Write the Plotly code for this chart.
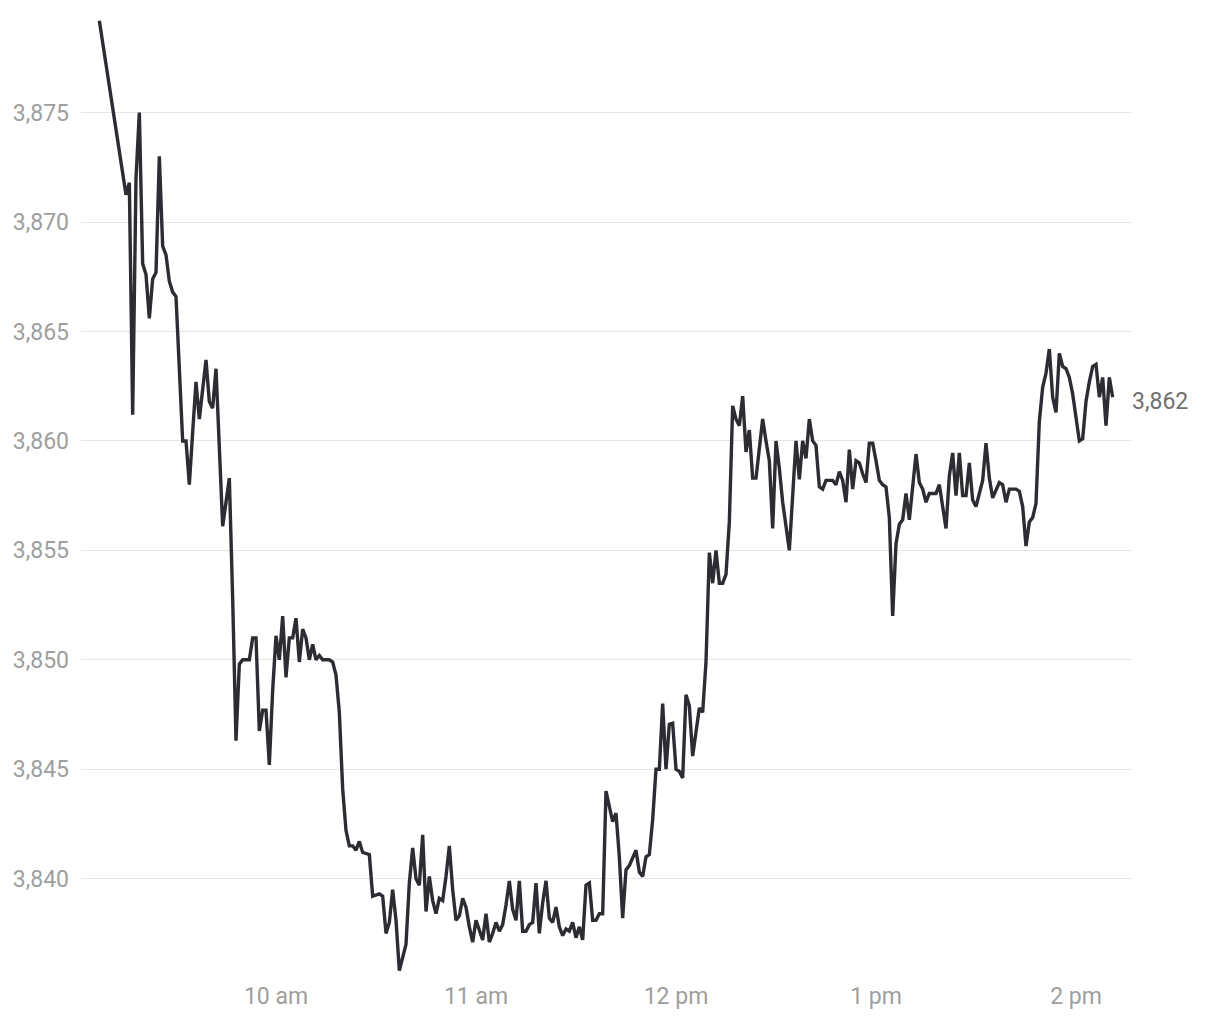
import pandas as pd
import plotly.graph_objects as go

# ---- data ----
session_date = "2024-01-02"
open_time = "09:07"
open_price = 3879.2
minute_start = "09:15"   # per-minute quotes start here

prices_0915_0959 = [
    3871.25, 3871.8, 3861.2, 3872.0, 3875.0, 3868.1, 3867.6, 3865.6, 3867.4, 3867.7,
    3873.0, 3868.9, 3868.5, 3867.3, 3866.8, 3866.6, 3863.3, 3860.0, 3860.0, 3858.0,
    3860.4, 3862.7, 3861.0, 3862.2, 3863.7, 3861.8, 3861.5, 3863.3, 3859.6, 3856.1,
    3857.2, 3858.3, 3852.8, 3846.3, 3849.8, 3850.0, 3850.0, 3850.0, 3851.0, 3851.0,
    3846.75, 3847.7, 3847.7, 3845.2, 3848.6,
]
prices_1000_1059 = [
    3851.1, 3850.0, 3852.0, 3849.2, 3851.0, 3851.0, 3851.9, 3849.9, 3851.4, 3851.0,
    3850.0, 3850.7, 3850.0, 3850.2, 3850.0, 3850.0, 3850.0, 3849.9, 3849.3, 3847.6,
    3844.1, 3842.2, 3841.5, 3841.5, 3841.3, 3841.7, 3841.2, 3841.15, 3841.1, 3839.2,
    3839.25, 3839.3, 3839.2, 3837.5, 3838.0, 3839.5, 3838.1, 3835.8, 3836.4, 3837.0,
    3839.8, 3841.4, 3840.0, 3839.7, 3842.0, 3838.5, 3840.1, 3839.0, 3838.4, 3839.1,
    3839.0, 3840.1, 3841.5, 3839.5, 3838.1, 3838.3, 3839.1, 3838.7, 3837.8, 3837.1,
]
prices_1100_1159 = [
    3838.1, 3837.6, 3837.2, 3838.4, 3837.1, 3837.5, 3838.0, 3837.6, 3837.9, 3838.8,
    3839.9, 3838.6, 3838.1, 3839.9, 3837.6, 3837.6, 3837.9, 3838.0, 3839.8, 3837.5,
    3838.9, 3839.9, 3838.2, 3838.0, 3838.7, 3837.8, 3837.4, 3837.7, 3837.6, 3838.0,
    3837.3, 3837.8, 3837.2, 3839.7, 3839.8, 3838.1, 3838.1, 3838.4, 3838.4, 3844.0,
    3843.3, 3842.6, 3843.0, 3841.0, 3838.2, 3840.4, 3840.6, 3841.0, 3841.3, 3840.3,
    3840.1, 3841.0, 3841.1, 3842.7, 3845.0, 3845.0, 3848.0, 3845.0, 3847.05, 3847.1,
]
prices_1200_1259 = [
    3845.0, 3844.9, 3844.6, 3848.4, 3847.9, 3845.6, 3846.7, 3847.8, 3847.6, 3849.9,
    3854.9, 3853.5, 3855.0, 3853.5, 3853.5, 3853.9, 3856.3, 3861.6, 3861.0, 3860.7,
    3862.05, 3859.5, 3860.5, 3858.3, 3858.3, 3859.5, 3861.0, 3860.0, 3859.1, 3856.0,
    3860.0, 3858.75, 3857.2, 3856.1, 3855.0, 3857.5, 3860.0, 3858.25, 3860.0, 3859.2,
    3861.0, 3860.0, 3859.8, 3857.9, 3857.8, 3858.2, 3858.2, 3858.2, 3858.0, 3858.6,
    3858.2, 3857.2, 3859.6, 3857.8, 3859.1, 3859.0, 3858.5, 3858.1, 3859.9, 3859.9,
]
prices_1300_1359 = [
    3859.1, 3858.2, 3858.0, 3857.9, 3856.5, 3852.0, 3855.3, 3856.2, 3856.4, 3857.6,
    3856.4, 3857.8, 3859.4, 3858.1, 3857.8, 3857.2, 3857.6, 3857.6, 3857.6, 3858.0,
    3857.0, 3856.0, 3858.4, 3859.45, 3857.5, 3859.45, 3857.5, 3857.5, 3859.0, 3857.3,
    3857.0, 3857.6, 3858.2, 3859.9, 3858.3, 3857.4, 3857.8, 3858.1, 3858.0, 3857.2,
    3857.8, 3857.8, 3857.8, 3857.7, 3857.0, 3855.2, 3856.3, 3856.5, 3857.15, 3860.9,
    3862.45, 3863.1, 3864.2, 3862.0, 3861.3, 3864.0, 3863.4, 3863.3, 3862.9, 3862.15,
]
prices_1400_1411 = [
    3861.1, 3860.0, 3860.1, 3861.8, 3862.7, 3863.4, 3863.5, 3862.0, 3862.9, 3860.7,
    3862.9, 3862.0,
]

y_tick_values = [3840, 3845, 3850, 3855, 3860, 3865, 3870, 3875]
x_tick_times = ["10:00", "11:00", "12:00", "13:00", "14:00"]
x_tick_labels = ["10 am", "11 am", "12 pm", "1 pm", "2 pm"]
x_range_times = ["09:01:30", "14:16:48"]
y_range = [3835.37, 3879.69]

# ---- build series ----
minute_prices = (prices_0915_0959 + prices_1000_1059 + prices_1100_1159
                 + prices_1200_1259 + prices_1300_1359 + prices_1400_1411)
minute_times = pd.date_range(f"{session_date} {minute_start}",
                             periods=len(minute_prices), freq="min")
times = [pd.Timestamp(f"{session_date} {open_time}")] + list(minute_times)
prices = [open_price] + minute_prices

FONT = "Roboto, 'Open Sans', Arial, sans-serif"
TICK_SIZE = 23

fig = go.Figure()
fig.add_trace(go.Scatter(
    x=times, y=prices, mode="lines",
    line=dict(color="#2c2c32", width=3.4),
    hoverinfo="skip", showlegend=False,
))

fig.add_annotation(
    x=1, xref="paper", y=prices[-1], yref="y",
    text=f"{prices[-1]:,.0f}", showarrow=False,
    xanchor="left", yanchor="middle", xshift=-2, yshift=-4,
    font=dict(family=FONT, size=TICK_SIZE, color="#707070"),
)

# margins compensate for the page's default 8px body offset
fig.update_layout(
    width=1220, height=1020,
    margin=dict(l=73, r=96, t=2, b=48),
    paper_bgcolor="white", plot_bgcolor="white",
    font=dict(family=FONT, size=TICK_SIZE, color="#9e9e9e"),
    xaxis=dict(
        type="date",
        range=[f"{session_date} {t}" for t in x_range_times],
        tickvals=[f"{session_date} {t}" for t in x_tick_times],
        ticktext=x_tick_labels,
        showgrid=False, zeroline=False, showline=False, ticks="",
        tickfont=dict(family=FONT, size=TICK_SIZE, color="#9e9e9e"),
    ),
    yaxis=dict(
        range=y_range,
        tickvals=y_tick_values,
        tickformat=",",
        showgrid=True, gridcolor="#e6e6e6", gridwidth=1,
        zeroline=False, showline=False, ticks="",
        ticklabelstandoff=11,
        tickfont=dict(family=FONT, size=TICK_SIZE, color="#9e9e9e"),
    ),
)

fig.write_html("out.html")
